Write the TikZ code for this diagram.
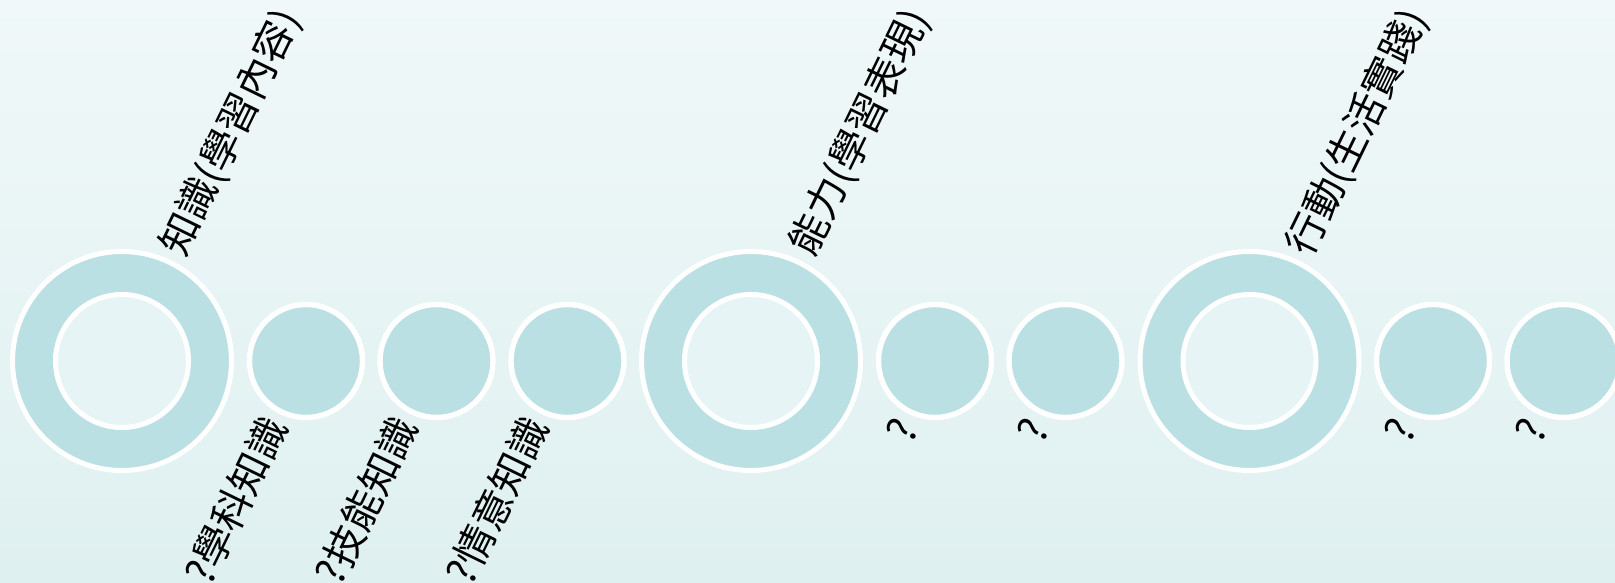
\documentclass[tikz,border=0pt]{standalone}
\usepackage{fontspec}
\setmainfont{Noto Sans CJK TC}
\usepackage{tikz}
\usetikzlibrary{positioning,calc}
\definecolor{bgtop}{RGB}{240,248,249}
\definecolor{bgbottom}{RGB}{223,240,240}
\definecolor{ringteal}{RGB}{187,224,227}
\definecolor{innerfill}{RGB}{230,244,245}

\begin{document}
\begin{tikzpicture}[
    x=1pt, y=1pt,
    every node/.style={font=\fontsize{40}{44}\selectfont},
    bigring/.style={circle, draw=white, line width=5pt, fill=ringteal, minimum size=219pt, inner sep=0pt},
    innerring/.style={circle, draw=white, line width=5pt, fill=innerfill, minimum size=133pt, inner sep=0pt},
    smallcirc/.style={circle, draw=white, line width=5.4pt, fill=ringteal, minimum size=113pt, inner sep=0pt},
    toplabel/.style={rotate=64, anchor=west, inner sep=0pt},
    sublabel/.style={rotate=64, anchor=south east, inner sep=0pt}
]

% Background
\useasboundingbox (0,0) rectangle (1615,583);
\shade[top color=bgtop, bottom color=bgbottom] (0,0) rectangle (1615,583);

% Knowledge group
\node[bigring] (know) at (122,222) {};
\node[innerring] (knowin) at (122,222) {};
\node[smallcirc] (subj) at (306,222) {};
\node[smallcirc] (skill) at (436.5,222) {};
\node[smallcirc] (affect) at (567.5,222) {};

% Ability group
\node[bigring] (abil) at (751,222) {};
\node[innerring] (abilin) at (751,222) {};
\node[smallcirc] (abila) at (935,222) {};
\node[smallcirc] (abilb) at (1065.5,222) {};

% Action group
\node[bigring] (act) at (1249.5,222) {};
\node[innerring] (actin) at (1249.5,222) {};
\node[smallcirc] (acta) at (1433,222) {};
\node[smallcirc] (actb) at (1563.5,222) {};

% Top labels
\node[toplabel] (knowtxt) at ($(know.62)+(-2,9)$) {知識(學習內容)};
\node[toplabel] (abiltxt) at ($(abil.62)+(-2,9)$) {能力(學習表現)};
\node[toplabel] (acttxt) at ($(act.62)+(-3,9)$) {行動(生活實踐)};

% Bottom labels
\node[sublabel] (subjtxt) at ($(subj.south)+(-14,-8)$) {?學科知識};
\node[sublabel] (skilltxt) at ($(skill.south)+(-14,-8)$) {?技能知識};
\node[sublabel] (affecttxt) at ($(affect.south)+(-14,-8)$) {?情意知識};
\node[sublabel] (abilatxt) at ($(abila.south)+(-14,-8)$) {?};
\node[sublabel] (abilbtxt) at ($(abilb.south)+(-14,-8)$) {?};
\node[sublabel] (actatxt) at ($(acta.south)+(-14,-8)$) {?};
\node[sublabel] (actbtxt) at ($(actb.south)+(-14,-8)$) {?};

\end{tikzpicture}
\end{document}
